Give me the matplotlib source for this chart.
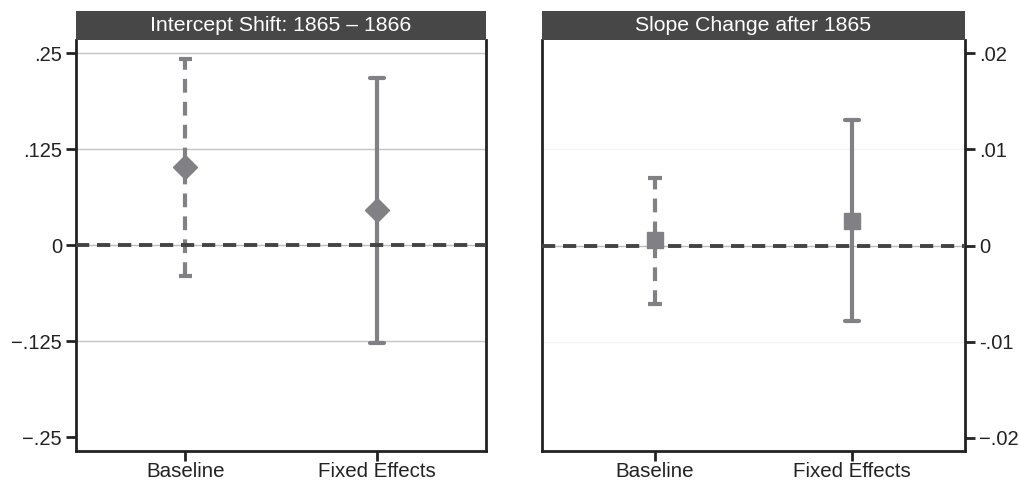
import matplotlib.pyplot as plt
from matplotlib.patches import Rectangle

plt.rcParams['font.family'] = ['Liberation Sans', 'DejaVu Sans']

# data
models = ["Baseline", "Fixed Effects"]

int_est = [0.102, 0.0456]
int_lo = [-0.040, -0.127]
int_hi = [0.242, 0.217]

slope_est = [0.00055, 0.00256]
slope_lo = [-0.00604, -0.00785]
slope_hi = [0.00698, 0.01305]

int_ticks = [-0.25, -0.125, 0, 0.125, 0.25]
int_labels = ["\u2212.25", "\u2212.125", "0", ".125", ".25"]
int_grid = [-0.125, 0.125, 0.25]
slope_ticks = [-0.02, -0.01, 0, 0.01, 0.02]
slope_labels = ["\u2212.02", "-.01", "0", ".01", ".02"]
slope_grid = [-0.01, 0.01]

BAR_COLOR = '#808085'
ZERO_COLOR = '#444444'
HEAD_COLOR = '#474747'

W, H = 1019, 482
fig = plt.figure(figsize=(W / 100, H / 100), dpi=100)
fig.patch.set_facecolor('white')

ax1 = fig.add_axes([76 / W, 1 - 451 / H, 410 / W, 411 / H])
ax2 = fig.add_axes([542 / W, 1 - 451 / H, 423 / W, 411 / H])


def draw_panel(ax, est, lo, hi, marker, msize, title, ticks, labels, grid, ylim, grid_color, right):
    xs = [1, 2]
    ax.set_xlim(0.43, 2.57)
    ax.set_ylim(*ylim)

    for t in grid:
        ax.axhline(t, color=grid_color, lw=1.0, zorder=1)
    ax.axhline(0, color='#bbbbbb', lw=1.0, zorder=1)
    ax.axhline(0, color=ZERO_COLOR, lw=2.8, ls=(0, (3.4, 2.0)), zorder=4)

    for i, x in enumerate(xs):
        ls = (0, (3.3, 2.2)) if i == 0 else '-'
        ax.plot([x, x], [lo[i], hi[i]], color=BAR_COLOR, lw=3.0, ls=ls,
                solid_capstyle='butt', dash_capstyle='butt', zorder=3)
        for y in (lo[i], hi[i]):
            ax.plot([x - 0.035, x + 0.035], [y, y], color=BAR_COLOR, lw=3.0,
                    solid_capstyle='round' if i == 1 else 'butt', zorder=3)
        ax.plot(x, est[i], marker=marker, ms=msize, color=BAR_COLOR, mec=BAR_COLOR,
                ls='none', zorder=5)

    ax.set_xticks(xs)
    ax.set_xticklabels(models, fontsize=14.8, color='#222222')
    ax.set_yticks(ticks)
    ax.set_yticklabels(labels, fontsize=14.5, color='#222222')
    if right:
        ax.yaxis.tick_right()
    ax.tick_params(axis='y', direction='out', length=7, width=2, color='#222222', pad=3)
    ax.tick_params(axis='x', direction='out', length=7, width=2, color='#222222', pad=1)

    for side in ['left', 'right', 'bottom']:
        ax.spines[side].set_linewidth(2)
        ax.spines[side].set_color('#222222')
    ax.spines['top'].set_visible(False)

    # dark title strip above the plot area
    bar_h = 29 / 411
    ax.add_patch(Rectangle((0, 1), 1, bar_h, transform=ax.transAxes, clip_on=False,
                           facecolor=HEAD_COLOR, edgecolor='none', zorder=6))
    ax.text(0.5, 1 + bar_h / 2, title, transform=ax.transAxes, ha='center', va='center',
            fontsize=15.3, color='white', zorder=7)


draw_panel(ax1, int_est, int_lo, int_hi, 'D', 12, "Intercept Shift: 1865 \u2013 1866",
           int_ticks, int_labels, int_grid, (-0.268, 0.267), '#c4c4c4', False)
draw_panel(ax2, slope_est, slope_lo, slope_hi, 's', 11, "Slope Change after 1865",
           slope_ticks, slope_labels, slope_grid, (-0.0214, 0.0214), '#f3f3f3', True)

fig.savefig('out.png', dpi=100)
